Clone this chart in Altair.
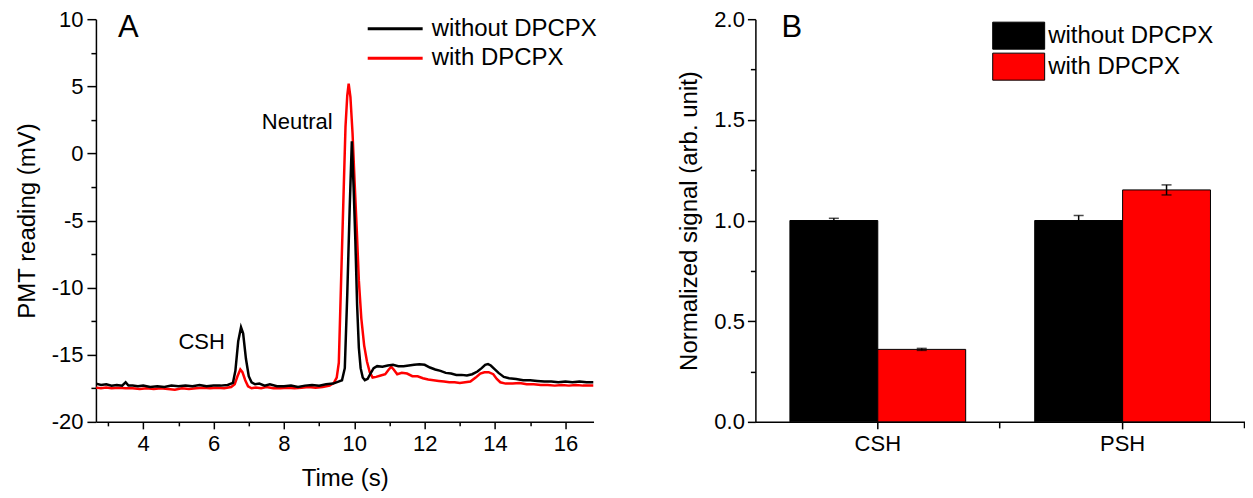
import altair as alt
import pandas as pd

F = "Liberation Sans"

series_names = ["without DPCPX", "with DPCPX"]
series_colors = ["#000000", "#ff0000"]

# Panel A traces (time in s, PMT reading in mV)
t_without = [2.66, 2.8, 2.95, 3.1, 3.25, 3.4, 3.5, 3.58, 3.7, 3.85, 4.0, 4.2, 4.4, 4.6, 4.8,
             5.0, 5.2, 5.4, 5.6, 5.8, 6.0, 6.2, 6.4, 6.55, 6.62, 6.7, 6.78, 6.84, 6.92, 7.0,
             7.08, 7.18, 7.3, 7.45, 7.6, 7.8, 8.0, 8.2, 8.4, 8.6, 8.8, 9.0, 9.2, 9.4, 9.55,
             9.65, 9.73, 9.8, 9.87, 9.93, 9.98, 10.03, 10.08, 10.13, 10.18, 10.24, 10.3, 10.38,
             10.46, 10.55, 10.65, 10.8, 10.95, 11.1, 11.25, 11.4, 11.55, 11.7, 11.85, 12.0,
             12.15, 12.3, 12.45, 12.6, 12.75, 12.9, 13.05, 13.2, 13.35, 13.5, 13.62, 13.72,
             13.8, 13.88, 13.98, 14.1, 14.25, 14.4, 14.6, 14.8, 15.0, 15.2, 15.4, 15.6, 15.8,
             16.0, 16.2, 16.4, 16.6, 16.8]
v_without = [-17.15, -17.25, -17.2, -17.3, -17.25, -17.3, -17.05, -17.3, -17.3, -17.35, -17.3,
             -17.4, -17.35, -17.4, -17.3, -17.35, -17.3, -17.35, -17.25, -17.35, -17.3, -17.3,
             -17.25, -17.1, -16.2, -14.0, -12.95, -13.4, -15.3, -16.6, -17.05, -17.2, -17.15,
             -17.3, -17.2, -17.35, -17.35, -17.3, -17.4, -17.3, -17.25, -17.3, -17.2, -17.15,
             -17.0, -16.9, -16.0, -10.5, -4.0, 0.9, -2.5, -6.5, -11.3, -14.5, -16.0, -16.7,
             -16.9, -16.8, -16.4, -16.0, -15.85, -15.9, -15.8, -15.75, -15.85, -15.85, -15.8,
             -15.75, -15.7, -15.75, -15.95, -16.1, -16.2, -16.35, -16.4, -16.5, -16.5, -16.55,
             -16.45, -16.25, -16.0, -15.75, -15.7, -15.8, -16.05, -16.35, -16.65, -16.75, -16.8,
             -16.9, -16.9, -16.95, -17.0, -17.0, -17.05, -17.0, -17.05, -17.0, -17.05, -17.05]

t_with = [2.66, 2.8, 2.95, 3.1, 3.3, 3.5, 3.7, 3.9, 4.1, 4.3, 4.5, 4.7, 4.9, 5.1, 5.3, 5.5,
          5.7, 5.9, 6.1, 6.3, 6.5, 6.6, 6.68, 6.76, 6.82, 6.9, 6.98, 7.08, 7.2, 7.35, 7.5,
          7.7, 7.9, 8.1, 8.3, 8.5, 8.7, 8.9, 9.1, 9.3, 9.42, 9.5, 9.56, 9.63, 9.69, 9.75,
          9.8, 9.84, 9.89, 9.95, 10.01, 10.07, 10.13, 10.2, 10.28, 10.36, 10.44, 10.52,
          10.62, 10.75, 10.88, 10.98, 11.05, 11.12, 11.22, 11.35, 11.5, 11.65, 11.8, 11.95,
          12.1, 12.25, 12.4, 12.55, 12.7, 12.85, 13.0, 13.15, 13.3, 13.45, 13.58, 13.7,
          13.82, 13.95, 14.05, 14.15, 14.3, 14.5, 14.7, 14.9, 15.1, 15.3, 15.5, 15.7, 15.9,
          16.1, 16.3, 16.5, 16.7, 16.8]
v_with = [-17.45, -17.5, -17.45, -17.5, -17.45, -17.5, -17.5, -17.55, -17.5, -17.55, -17.5,
          -17.55, -17.6, -17.5, -17.55, -17.5, -17.45, -17.5, -17.45, -17.5, -17.4, -17.2,
          -16.6, -16.1, -16.3, -16.9, -17.35, -17.5, -17.45, -17.5, -17.4, -17.5, -17.5,
          -17.45, -17.5, -17.45, -17.4, -17.45, -17.4, -17.3, -17.1, -16.7, -15.6, -9.0,
          -3.5, 2.0, 4.3, 5.2, 4.2, 1.5, -2.2, -5.7, -9.5, -12.3, -14.3, -15.5, -16.3, -16.7,
          -16.65, -16.55, -16.45, -16.1, -15.9, -16.1, -16.45, -16.35, -16.4, -16.6, -16.6,
          -16.75, -16.85, -16.9, -16.95, -17.0, -17.05, -17.05, -17.1, -17.05, -17.0, -16.7,
          -16.4, -16.3, -16.3, -16.45, -16.8, -17.05, -17.15, -17.15, -17.1, -17.2, -17.2,
          -17.25, -17.25, -17.3, -17.25, -17.3, -17.25, -17.3, -17.3, -17.3]

ann_labels = ["Neutral", "CSH"]
ann_x = [9.385, 6.32]
ann_y = [1.83, -14.54]

panel_a_label = ["A"]
panel_a_x = [3.28]
panel_a_y = [8.66]

x_ticks = [4, 6, 8, 10, 12, 14, 16]
x_minor = [3, 5, 7, 9, 11, 13, 15]
y_ticks = [-20, -15, -10, -5, 0, 5, 10]
y_minor = [-17.5, -12.5, -7.5, -2.5, 2.5, 7.5]

# Panel B bars
categories = ["CSH", "PSH"]
bar_without = [1.0, 1.0]
bar_with = [0.36, 1.152]
err_without = [0.011, 0.025]
err_with = [0.005, 0.025]
b_ticks = [0.0, 0.5, 1.0, 1.5, 2.0]
b_minor = [0.25, 0.75, 1.25, 1.75]

panel_b_label = ["B"]
panel_b_cat = ["CSH"]
panel_b_y = [1.911]

PW_A, PW_B, PH = 498, 490, 403

# ---------------- Panel A ----------------
lines_df = pd.concat([
    pd.DataFrame({"t": t_with, "v": v_with, "series": series_names[1]}),
    pd.DataFrame({"t": t_without, "v": v_without, "series": series_names[0]}),
], ignore_index=True)
ann_df = pd.DataFrame({"ax": ann_x, "ay": ann_y, "label": ann_labels})
pa_df = pd.DataFrame({"px": panel_a_x, "py": panel_a_y, "label": panel_a_label})

xsc = alt.Scale(domain=[2.656, 16.8], nice=False, zero=False)
ysc = alt.Scale(domain=[-20, 10], nice=False, zero=False)

leg_a = alt.Legend(title=None, orient="none", legendX=284, legendY=-6, symbolType="M-2,0H2",
                   symbolSize=756, symbolStrokeWidth=3, labelFontSize=24, labelFont=F,
                   labelColor="black", labelOffset=21, rowPadding=1.5, padding=0, labelLimit=0)
color_a = alt.Color("series:N", scale=alt.Scale(domain=series_names, range=series_colors),
                    legend=leg_a)

base_a = alt.Chart(lines_df)
red_line = base_a.transform_filter(alt.datum.series == series_names[1]).mark_line(
    strokeWidth=2.5, clip=True).encode(
    x=alt.X("t:Q", scale=xsc, axis=None),
    y=alt.Y("v:Q", scale=ysc, axis=None),
    color=color_a,
)
black_line = base_a.transform_filter(alt.datum.series == series_names[0]).mark_line(
    strokeWidth=2.5, clip=True).encode(
    x=alt.X("t:Q", scale=xsc, axis=alt.Axis(values=x_ticks, labelExpr="'' + datum.value",
                                            tickSize=7, labelPadding=5, title="Time (s)",
                                            titlePadding=12, orient="bottom")),
    y=alt.Y("v:Q", scale=ysc, axis=alt.Axis(values=y_ticks, labelExpr="'' + datum.value",
                                            tickSize=9, labelPadding=4,
                                            title="PMT reading (mV)",
                                            titlePadding=12, orient="left")),
    color=color_a,
)
ann = alt.Chart(ann_df).mark_text(align="right", baseline="alphabetic", fontSize=22, font=F,
                                  color="black").encode(
    x=alt.X("ax:Q", scale=xsc, axis=alt.Axis(values=x_minor, tickSize=4, labels=False,
                                             domain=False, title=None, orient="bottom")),
    y=alt.Y("ay:Q", scale=ysc, axis=alt.Axis(values=y_minor, tickSize=5, labels=False,
                                             domain=False, title=None, orient="left")),
    text="label:N",
)
pa = alt.Chart(pa_df).mark_text(align="left", baseline="alphabetic", fontSize=31, font=F,
                                color="black").encode(
    x=alt.X("px:Q", scale=xsc, axis=None),
    y=alt.Y("py:Q", scale=ysc, axis=None),
    text="label:N",
)
left = alt.layer(red_line, black_line, ann, pa).resolve_axis(
    x="independent", y="independent").properties(width=PW_A, height=PH)

# ---------------- Panel B ----------------
rows = []
for i, c in enumerate(categories):
    rows.append({"cat": c, "cond": series_names[0], "val": bar_without[i],
                 "lo": bar_without[i] - err_without[i], "hi": bar_without[i] + err_without[i]})
    rows.append({"cat": c, "cond": series_names[1], "val": bar_with[i],
                 "lo": bar_with[i] - err_with[i], "hi": bar_with[i] + err_with[i]})
bars_df = pd.DataFrame(rows)
pb_df = pd.DataFrame({"cat": panel_b_cat, "py": panel_b_y, "label": panel_b_label})

xbs = alt.Scale(domain=categories, paddingInner=0.282, paddingOuter=0.141)
ybs = alt.Scale(domain=[0, 2], nice=False, zero=True)
xo = alt.XOffset("cond:N", scale=alt.Scale(domain=series_names, paddingInner=0, paddingOuter=0))

leg_b = alt.Legend(title=None, orient="none", legendX=250, legendY=3,
                   symbolType="M-2,-1.04H2V1.04H-2Z", symbolSize=676,
                   symbolStrokeColor="black", symbolStrokeWidth=1, labelFontSize=24,
                   labelFont=F, labelColor="black", labelOffset=16, rowPadding=-2, padding=0,
                   labelLimit=0)

base_b = alt.Chart(bars_df)
bars = base_b.mark_bar(stroke="black", strokeWidth=1).encode(
    x=alt.X("cat:N", scale=xbs, axis=alt.Axis(title=None, tickSize=7, labelPadding=5,
                                               labelAngle=0, orient="bottom")),
    xOffset=xo,
    y=alt.Y("val:Q", scale=ybs, axis=alt.Axis(values=b_ticks, format=".1f", tickSize=8,
                                               labelPadding=3,
                                               title="Normalized signal (arb. unit)",
                                               titlePadding=12, orient="left")),
    color=alt.Color("cond:N", scale=alt.Scale(domain=series_names, range=series_colors),
                    legend=leg_b),
)
err_rule = base_b.mark_rule(color="black", strokeWidth=1.5).encode(
    x=alt.X("cat:N", scale=xbs, axis=alt.Axis(bandPosition=1.196, tickSize=6, labels=False,
                                               domain=False, title=None, orient="bottom")),
    xOffset=xo,
    y=alt.Y("lo:Q", scale=ybs, axis=alt.Axis(values=b_minor, tickSize=5, labels=False,
                                              domain=False, title=None, orient="left")),
    y2="hi:Q",
)
cap_hi = base_b.mark_tick(color="black", size=10, thickness=1.5).encode(
    x=alt.X("cat:N", scale=xbs, axis=None), xOffset=xo,
    y=alt.Y("hi:Q", scale=ybs, axis=None),
)
cap_lo = base_b.mark_tick(color="black", size=10, thickness=1.5).encode(
    x=alt.X("cat:N", scale=xbs, axis=None), xOffset=xo,
    y=alt.Y("lo:Q", scale=ybs, axis=None),
)
pb = alt.Chart(pb_df).mark_text(align="left", baseline="alphabetic", fontSize=31, font=F,
                                color="black", dx=-8.5).encode(
    x=alt.X("cat:N", scale=xbs, bandPosition=0, axis=None),
    y=alt.Y("py:Q", scale=ybs, axis=None),
    text="label:N",
)
right = alt.layer(bars, err_rule, cap_hi, cap_lo, pb).resolve_axis(
    x="independent", y="independent").properties(width=PW_B, height=PH)

chart = alt.hconcat(left, right, spacing=80).resolve_scale(color="independent").properties(
    padding={"left": 7, "top": 0, "right": 0, "bottom": 0}
).configure_view(stroke=None).configure_axis(
    labelFont=F, titleFont=F, labelFontSize=22, titleFontSize=24, titleFontWeight="normal",
    labelColor="black", titleColor="black", domainColor="black", tickColor="black",
    domainWidth=1.5, tickWidth=1.5, grid=False,
)

chart.save("out.html", embed_options={"renderer": "svg", "actions": False})
